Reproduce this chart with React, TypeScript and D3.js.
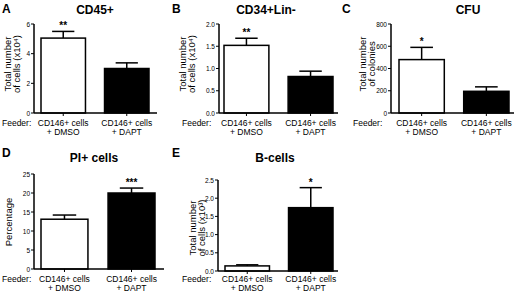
import React from "react";
import * as d3 from "d3";

// ---------- data ----------
const groups = ["CD146+ cells|+ DMSO", "CD146+ cells|+ DAPT"];
const cd45Values = [5.05, 3.0];
const cd45Errors = [0.45, 0.38];
const cd34Values = [1.52, 0.82];
const cd34Errors = [0.16, 0.12];
const cfuValues = [480, 195];
const cfuErrors = [110, 40];
const piValues = [13.1, 20.0];
const piErrors = [1.1, 1.3];
const bcellValues = [0.14, 1.74];
const bcellErrors = [0.03, 0.55];

const cd45Ticks = [0, 2, 4, 6];
const cd34Ticks = [0, 0.5, 1.0, 1.5, 2.0];
const cfuTicks = [0, 200, 400, 600, 800];
const piTicks = [0, 5, 10, 15, 20, 25];
const bcellTicks = [0, 0.5, 1.0, 1.5, 2.0, 2.5];

const panelLetters = ["A", "B", "C", "D", "E"];
const panelTitles = ["CD45+", "CD34+Lin-", "CFU", "PI+ cells", "B-cells"];
const yLabels = [
  ["Total number", "of cells (x10\u2074)"],
  ["Total number", "of cells (x10\u2074)"],
  ["Total number", "of colonies"],
  ["Percentage"],
  ["Total number", "of cells (x10\u00b3)"],
];
const significance = [["**", ""], ["**", ""], ["*", ""], ["", "***"], ["", "*"]];
const tickDecimals = [0, 1, 0, 0, 1];

// ---------- layout ----------
type Layout = {
  axisX: number; yTop: number; yBot: number;
  barL: number; barR: number; baseEnd: number; labelY: number;
  titleX: number; titleY: number; ylabX: number; ylabY: number; feederX: number;
  letterX: number; letterY: number;
};
const layouts: Layout[] = [
  { axisX: 34, yTop: 24, yBot: 113, barL: 41, barR: 149, baseEnd: 157, labelY: 126, titleX: 95, titleY: 14, ylabX: 7, ylabY: 64, feederX: 2, letterX: 2, letterY: 13 },
  { axisX: 219, yTop: 24, yBot: 113, barL: 224, barR: 333, baseEnd: 338, labelY: 126, titleX: 266, titleY: 14, ylabX: 182, ylabY: 64, feederX: 182, letterX: 172, letterY: 13 },
  { axisX: 391, yTop: 24, yBot: 113, barL: 399, barR: 509, baseEnd: 514, labelY: 126, titleX: 468, titleY: 14, ylabX: 362, ylabY: 64, feederX: 353, letterX: 342, letterY: 13 },
  { axisX: 34, yTop: 174, yBot: 269, barL: 41, barR: 155, baseEnd: 164, labelY: 282, titleX: 94, titleY: 162, ylabX: 8, ylabY: 222, feederX: 2, letterX: 2, letterY: 157 },
  { axisX: 218, yTop: 180, yBot: 271, barL: 225, barR: 333, baseEnd: 338, labelY: 282, titleX: 275, titleY: 162, ylabX: 192, ylabY: 228, feederX: 182, letterX: 172, letterY: 157 },
];

const allValues = [cd45Values, cd34Values, cfuValues, piValues, bcellValues];
const allErrors = [cd45Errors, cd34Errors, cfuErrors, piErrors, bcellErrors];
const allTicks = [cd45Ticks, cd34Ticks, cfuTicks, piTicks, bcellTicks];

const FONT = "Liberation Sans, Arial, sans-serif";

function Panel({ i }: { i: number }) {
  const L = layouts[i];
  const values = allValues[i];
  const errors = allErrors[i];
  const ticks = allTicks[i];
  const y = d3.scaleLinear().domain([0, ticks[ticks.length - 1]]).range([L.yBot, L.yTop]);
  const x = d3.scaleBand<string>().domain(groups).range([L.barL, L.barR]).paddingInner(0.3).paddingOuter(0);
  const bw = x.bandwidth();
  const fmt = d3.format(`.${tickDecimals[i]}f`);
  return (
    <g fontFamily={FONT}>
      <text x={L.letterX} y={L.letterY} fontSize={12} fontWeight="bold">{panelLetters[i]}</text>
      <text x={L.titleX} y={L.titleY} fontSize={12} fontWeight="bold" textAnchor="middle">{panelTitles[i]}</text>
      {yLabels[i].map((t, k) => (
        <text key={k} transform={`translate(${L.ylabX + k * 9},${L.ylabY}) rotate(-90)`}
          fontSize={9.5} textAnchor="middle" dominantBaseline="central">{t}</text>
      ))}
      {groups.map((g, k) => {
        const x0 = x(g)!;
        const top = y(values[k]);
        const errTop = y(values[k] + errors[k]);
        const cx = x0 + bw / 2;
        return (
          <g key={g}>
            <line x1={cx} x2={cx} y1={top} y2={errTop} stroke="#000" strokeWidth={1.5} />
            <line x1={cx - bw * 0.25} x2={cx + bw * 0.25} y1={errTop} y2={errTop} stroke="#000" strokeWidth={1.5} />
            <rect x={x0} y={top} width={bw} height={L.yBot - top} fill={k === 0 ? "#fff" : "#000"} stroke="#000" strokeWidth={1.5} />
            {significance[i][k] && (
              <text x={cx} y={errTop - 2} fontSize={10} fontWeight="bold" textAnchor="middle">{significance[i][k]}</text>
            )}
            <line x1={cx} x2={cx} y1={L.yBot} y2={L.yBot + 3} stroke="#000" strokeWidth={1} />
            {g.split("|").map((t, j) => (
              <text key={j} x={cx} y={L.labelY + j * 9} fontSize={8.5} textAnchor="middle">{t}</text>
            ))}
          </g>
        );
      })}
      <line x1={L.axisX} x2={L.axisX} y1={L.yTop} y2={L.yBot} stroke="#000" strokeWidth={1.5} />
      <line x1={L.axisX} x2={L.baseEnd} y1={L.yBot} y2={L.yBot} stroke="#000" strokeWidth={1.5} />
      {ticks.map((t) => (
        <g key={t}>
          <line x1={L.axisX - 3} x2={L.axisX} y1={y(t)} y2={y(t)} stroke="#000" strokeWidth={1} />
          <text x={L.axisX - 4} y={y(t)} fontSize={6.5} textAnchor="end" dominantBaseline="central">{fmt(t)}</text>
        </g>
      ))}
      <text x={L.feederX} y={L.labelY} fontSize={8.5}>Feeder:</text>
    </g>
  );
}

export default function App() {
  return (
    <svg width={520} height={294} style={{ position: "absolute", left: 0, top: 0, background: "#fff" }}>
      <rect width={520} height={294} fill="#fff" />
      {layouts.map((_, i) => <Panel key={i} i={i} />)}
    </svg>
  );
}
